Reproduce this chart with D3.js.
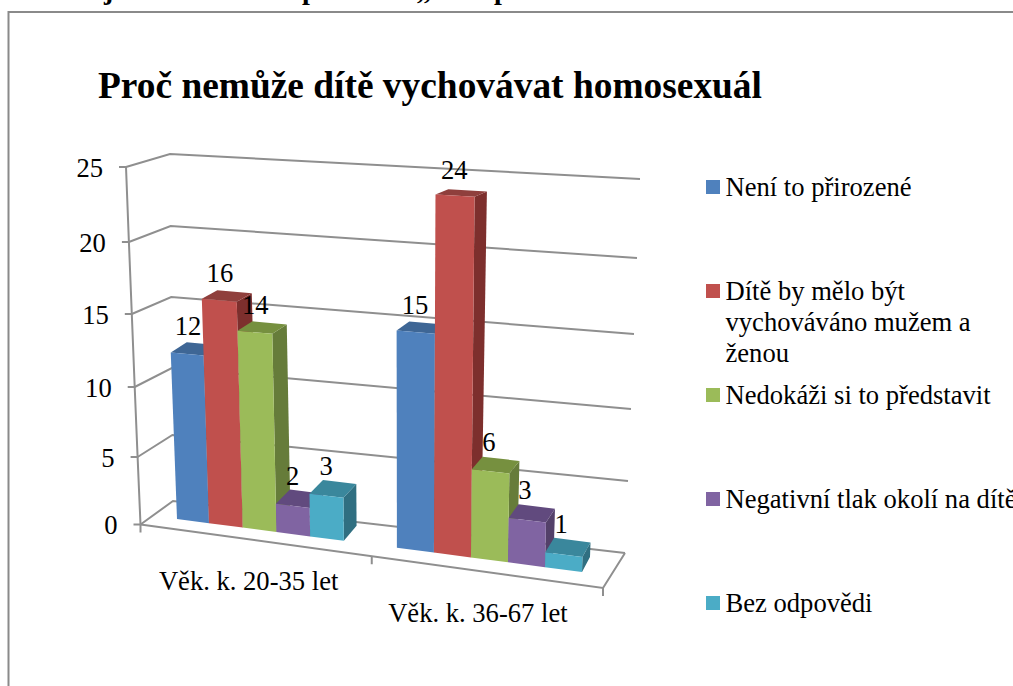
<!DOCTYPE html>
<html>
<head>
<meta charset="utf-8">
<script src="https://cdn.jsdelivr.net/npm/d3@7"></script>
<style>
html,body{margin:0;padding:0;background:#fff;overflow:hidden}
text{font-family:"Liberation Serif","Times New Roman",serif;fill:#000}
</style>
</head>
<body>
<svg id="chart" width="1013" height="686"></svg>
<script>
// ---- data ----
const title = "Proč nemůže dítě vychovávat homosexuál";
const categories = ["Věk. k. 20-35 let", "Věk. k. 36-67 let"];
const legendLines = [["Není to přirozené"], ["Dítě by mělo být", "vychováváno mužem a", "ženou"], ["Nedokáži si to představit"], ["Negativní tlak okolí na dítě"], ["Bez odpovědi"]];
const group1Values = [12, 16, 14, 2, 3];
const group2Values = [15, 24, 6, 3, 1];
const yTicks = [0, 5, 10, 15, 20, 25];
const headerFragments = [["j", 104], ["p", 302], [",,", 417], ["p", 494]];

// ---- styles ----
const frontColors = ["#4F81BD", "#C0504D", "#9BBB59", "#8064A2", "#4BACC6"];
const topColors = ["#3E6695", "#8F3F3C", "#76903F", "#614A7E", "#3A879C"];
const sideColors = ["#34557C", "#7D2F2D", "#667C3A", "#534069", "#306F81"];
const gridColor = "#8f8f8f";
const labelSize = 26.6;

const svg = d3.select("#chart");

// ---- frame scales (3D walls projected on the page) ----
const lerp = (a, b, t) => a + (b - a) * t;
const frontAxisX = d3.scaleLinear().domain([0, 25]).range([140.5, 126]);
const frontAxisY = d3.scaleLinear().domain(yTicks).range([524.5, 457, 387, 314, 242, 167]);
const backLeftX = d3.scaleLinear().domain([0, 25]).range([173, 170]);
const backLeftY = d3.scaleLinear().domain(yTicks).range([501, 435, 368, 297, 226, 154]);
const backRightX = d3.scaleLinear().domain([0, 25]).range([625, 640]);
const backRightY = d3.scaleLinear().domain(yTicks).range([553, 481, 409, 334, 258, 179]);
const floorFront = d3.scaleLinear().domain([0, categories.length]).range([140.5, 603]);
const floorFrontY = d3.scaleLinear().domain([0, categories.length]).range([524.5, 588]);

// ---- bar scales ----
const slot = d3.scaleLinear().domain([0, 1, 5, 6.5, 11.5]).range([0, 0.079, 0.412, 0.543, 1]);
const heightFrac = d3.scaleLinear().domain([0, 15, 24]).range([0, 0.6, 0.982]);
const planes = [
  {a0: [177, 519], a1: [164, 172], b0: [582, 572], b1: [592, 197]},
  {a0: [193, 504], a1: [180, 167], b0: [590, 557], b1: [603, 192]}
];
function project(s, v, z) {
  const p = planes[z], u = slot(s), h = heightFrac(v);
  const left = [lerp(p.a0[0], p.a1[0], h), lerp(p.a0[1], p.a1[1], h)];
  const right = [lerp(p.b0[0], p.b1[0], h), lerp(p.b0[1], p.b1[1], h)];
  return [lerp(left[0], right[0], u), lerp(left[1], right[1], u)];
}
const lineGen = d3.line();

// ---- outer border and clipped text line above it ----
svg.append("path").attr("d", lineGen([[8.5, 686], [8.5, 12], [1013, 12]]))
  .attr("fill", "none").attr("stroke", "#8a8a8a").attr("stroke-width", 2);
svg.selectAll("text.hdr").data(headerFragments).join("text").attr("class", "hdr")
  .attr("x", d => d[1]).attr("y", -1).attr("font-size", 28).attr("font-weight", "bold").text(d => d[0]);

svg.append("text").attr("x", 98).attr("y", 98).attr("font-size", 37.4).attr("font-weight", "bold").text(title);

// ---- grid ----
const grid = svg.append("g").attr("fill", "none").attr("stroke", gridColor).attr("stroke-width", 2);
grid.selectAll("path.g").data(yTicks).join("path").attr("class", "g")
  .attr("d", v => lineGen([
    [frontAxisX(v), frontAxisY(v)],
    [backLeftX(v), backLeftY(v)],
    [backRightX(v), backRightY(v)]]));
grid.append("path").attr("d", lineGen(yTicks.map(v => [frontAxisX(v), frontAxisY(v)])));
grid.append("path").attr("d", lineGen([
  [floorFront(0), floorFrontY(0)], [floorFront(2), floorFrontY(2)], [backRightX(0), backRightY(0)]]));
grid.selectAll("path.t").data(yTicks).join("path").attr("class", "t")
  .attr("d", v => lineGen([[frontAxisX(v) - 7, frontAxisY(v)], [frontAxisX(v), frontAxisY(v)]]));
grid.selectAll("path.c").data(d3.range(categories.length + 1)).join("path").attr("class", "c")
  .attr("d", i => lineGen([[floorFront(i), floorFrontY(i)], [floorFront(i), floorFrontY(i) + 8]]));

// ---- y labels ----
svg.selectAll("text.y").data(yTicks).join("text").attr("class", "y")
  .attr("x", v => frontAxisX(v) - 23).attr("y", v => frontAxisY(v) + 9.5)
  .attr("text-anchor", "end").attr("font-size", labelSize).text(v => v);

// ---- category labels ----
svg.selectAll("text.cat").data(categories).join("text").attr("class", "cat")
  .attr("x", (d, i) => floorFront(i + 0.5) - 7.5 - 2 * i)
  .attr("y", (d, i) => floorFrontY(i + 0.5) + 50)
  .attr("text-anchor", "middle").attr("font-size", labelSize).text(d => d);

// ---- bars ----
const bars = [];
[group1Values, group2Values].forEach((vals, g) => {
  const start = g === 0 ? 0 : 6.5;
  vals.forEach((v, i) => bars.push({v, i, s0: start + i, s1: start + i + 1}));
});
const barG = svg.append("g");
bars.forEach(b => {
  const g = barG.append("g");
  g.append("path").attr("fill", sideColors[b.i]).attr("d", lineGen([
    project(b.s1, 0, 0), project(b.s1, b.v, 0), project(b.s1, b.v, 1), project(b.s1, 0, 1)]) + "Z");
  g.append("path").attr("fill", topColors[b.i]).attr("d", lineGen([
    project(b.s0, b.v, 0), project(b.s1, b.v, 0), project(b.s1, b.v, 1), project(b.s0, b.v, 1)]) + "Z");
  g.append("path").attr("fill", frontColors[b.i]).attr("d", lineGen([
    project(b.s0, 0, 0), project(b.s1, 0, 0), project(b.s1, b.v, 0), project(b.s0, b.v, 0)]) + "Z");
});
svg.selectAll("text.val").data(bars).join("text").attr("class", "val")
  .attr("x", b => (project((b.s0 + b.s1) / 2, b.v, 0)[0] + project((b.s0 + b.s1) / 2, b.v, 1)[0]) / 2 - 7)
  .attr("y", b => (project((b.s0 + b.s1) / 2, b.v, 0)[1] + project((b.s0 + b.s1) / 2, b.v, 1)[1]) / 2 - 14)
  .attr("text-anchor", "middle").attr("font-size", labelSize).text(b => b.v);

// ---- legend ----
const legendY = d3.scalePoint().domain(d3.range(legendLines.length)).range([180, 596]);
const legend = svg.selectAll("g.leg").data(legendLines).join("g").attr("class", "leg")
  .attr("transform", (d, i) => `translate(706,${legendY(i)})`);
legend.append("rect").attr("width", 14).attr("height", 14).attr("fill", (d, i) => frontColors[i]);
legend.each(function (lines) {
  d3.select(this).selectAll("text").data(lines).join("text")
    .attr("x", 19.5).attr("y", (d, j) => 16 + j * 31).attr("font-size", labelSize).text(d => d);
});
</script>
</body>
</html>
